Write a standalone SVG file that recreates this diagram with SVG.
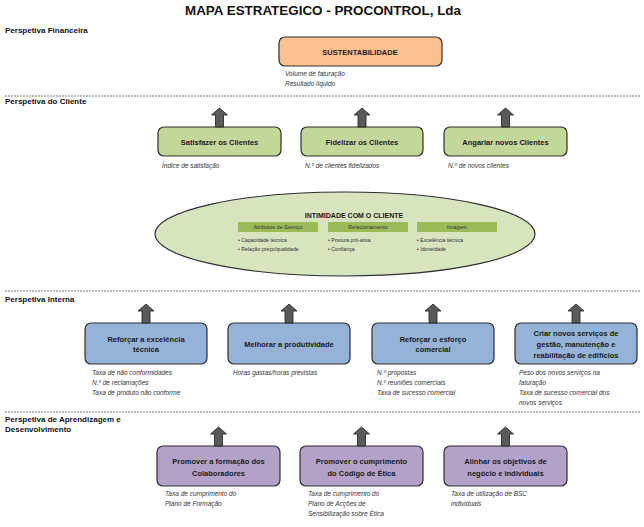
<svg xmlns="http://www.w3.org/2000/svg" xmlns:xlink="http://www.w3.org/1999/xlink" width="644" height="527" viewBox="0 0 644 527">
<defs>
<style>
.title{font-family:"Liberation Sans",Arial,sans-serif;font-weight:bold;font-size:13px;fill:#111}
.sec{font-family:"Liberation Sans",Arial,sans-serif;font-weight:bold;font-size:8px;fill:#111}
.box{stroke:#2e2e2e;stroke-width:1.2}
.bt{font-family:"Liberation Sans",Arial,sans-serif;font-weight:bold;font-size:7.5px;fill:#1a1a1a;text-anchor:middle}
.ind{font-family:"Liberation Sans",Arial,sans-serif;font-style:italic;font-size:6.5px;fill:#333}
.dash{stroke:#555;stroke-width:0.8;stroke-dasharray:2 1;fill:none}
.arr{fill:#5a5a5a;stroke:#1e1e1e;stroke-width:0.8}
.hdr{fill:#9bbb59}
.ht{font-family:"Liberation Sans",Arial,sans-serif;font-size:5.5px;fill:#333;text-anchor:middle}
.bl{font-family:"Liberation Sans",Arial,sans-serif;font-size:5.2px;fill:#333}
.orange{fill:#fac090}
.green{fill:#c4d79b}
.blue{fill:#95b3d7}
.purple{fill:#b3a2c7}
</style>
<path id="up" d="M0,0 L8,7 L4,7 L4,19 L-4,19 L-4,7 L-8,7 Z"/>
</defs>
<rect width="644" height="527" fill="#fff"/>
<text class="title" x="185" y="15" textLength="276" lengthAdjust="spacingAndGlyphs">MAPA ESTRATEGICO - PROCONTROL, Lda</text>

<g id="sections">
<text class="sec" x="5" y="33">Perspetiva Financeira</text>
<line class="dash" x1="5" y1="96" x2="640" y2="96"/>
<text class="sec" x="5" y="104">Perspetiva do Cliente</text>
<line class="dash" x1="5" y1="291" x2="640" y2="291"/>
<text class="sec" x="5" y="302">Perspetiva Interna</text>
<line class="dash" x1="5" y1="412" x2="640" y2="412"/>
<text class="sec" x="5" y="422">Perspetiva de Aprendizagem e</text>
<text class="sec" x="5" y="432">Desenvolvimento</text>
</g>

<g id="sustentabilidade">
<rect class="box orange" x="279" y="37" width="163" height="29" rx="6"/>
<text class="bt" x="360" y="54.5">SUSTENTABILIDADE</text>
<text class="ind" x="285" y="76">Volume de faturação</text>
<text class="ind" x="285" y="86">Resultado líquido</text>
</g>

<g id="satisfazer">
<rect class="box green" x="158" y="127" width="123" height="29" rx="6"/>
<text class="bt" x="219.5" y="144.5">Satisfazer os Clientes</text>
<text class="ind" x="162" y="168">Índice de satisfação</text>
</g>
<g id="fidelizar">
<rect class="box green" x="301" y="127" width="122" height="29" rx="6"/>
<text class="bt" x="362" y="144.5">Fidelizar os Clientes</text>
<text class="ind" x="305" y="168">N.º de clientes fidelizados</text>
</g>
<g id="angariar">
<rect class="box green" x="444" y="127" width="123" height="29" rx="6"/>
<text class="bt" x="505.5" y="144.5">Angariar novos Clientes</text>
<text class="ind" x="448" y="168">N.º de novos clientes</text>
</g>

<g id="intimidade">
<ellipse cx="345" cy="234" rx="190" ry="42" fill="#d7e4bd" stroke="#2e2e2e" stroke-width="1.2"/>
<text class="bt" x="354" y="217.5" style="font-size:7px">INTIMIDADE COM O CLIENTE</text>
<rect class="hdr" x="238" y="222" width="80" height="10"/>
<rect class="hdr" x="328" y="222" width="80" height="10"/>
<rect class="hdr" x="417" y="222" width="80" height="10"/>
<text class="ht" x="278" y="229">Atributos de Serviço</text>
<text class="ht" x="368" y="229">Relacionamento</text>
<text class="ht" x="457" y="229">Imagem</text>
<text class="bl" x="238" y="242">• Capacidade técnica</text>
<text class="bl" x="238" y="251">• Relação preço/qualidade</text>
<text class="bl" x="328" y="242">• Postura pró-ativa</text>
<text class="bl" x="328" y="251">• Confiança</text>
<text class="bl" x="417" y="242">• Excelência técnica</text>
<text class="bl" x="417" y="251">• Idoneidade</text>
</g>

<g id="excelencia">
<rect class="box blue" x="85" y="323" width="122" height="41" rx="6"/>
<text class="bt" x="146" y="341.5">Reforçar a excelência</text>
<text class="bt" x="146" y="351.5">técnica</text>
<text class="ind" x="92" y="375">Taxa de não conformidades</text>
<text class="ind" x="92" y="385">N.º de reclamações</text>
<text class="ind" x="92" y="395">Taxa de produto não conforme</text>
</g>
<g id="produtividade">
<rect class="box blue" x="228" y="323" width="122" height="41" rx="6"/>
<text class="bt" x="289" y="346.5">Melhorar a produtividade</text>
<text class="ind" x="233" y="375">Horas gastas/horas previstas</text>
</g>
<g id="esforco">
<rect class="box blue" x="372" y="323" width="122" height="41" rx="6"/>
<text class="bt" x="433" y="341.5">Reforçar o esforço</text>
<text class="bt" x="433" y="351.5">comercial</text>
<text class="ind" x="377" y="375">N.º propostas</text>
<text class="ind" x="377" y="385">N.º reuniões comerciais</text>
<text class="ind" x="377" y="395">Taxa de sucesso comercial</text>
</g>
<g id="novos-servicos">
<rect class="box blue" x="515" y="323" width="122" height="41" rx="6"/>
<text class="bt" x="576" y="336">Criar novos serviços de</text>
<text class="bt" x="576" y="347">gestão, manutenção e</text>
<text class="bt" x="576" y="358">reabilitação de edifícios</text>
<text class="ind" x="519" y="375">Peso dos novos serviços na</text>
<text class="ind" x="519" y="385">faturação</text>
<text class="ind" x="519" y="395">Taxa de sucesso comercial dos</text>
<text class="ind" x="519" y="405">novos serviços</text>
</g>

<g id="formacao">
<rect class="box purple" x="157" y="446" width="123" height="40" rx="6"/>
<text class="bt" x="218.5" y="463.5">Promover a formação dos</text>
<text class="bt" x="218.5" y="475.5">Colaboradores</text>
<text class="ind" x="165" y="496">Taxa de cumprimento do</text>
<text class="ind" x="165" y="506">Plano de Formação</text>
</g>
<g id="etica">
<rect class="box purple" x="300" y="446" width="123" height="40" rx="6"/>
<text class="bt" x="361.5" y="463.5">Promover o cumprimento</text>
<text class="bt" x="361.5" y="475.5">do Código de Ética</text>
<text class="ind" x="308" y="496">Taxa de cumprimento do</text>
<text class="ind" x="308" y="506">Plano de Acções de</text>
<text class="ind" x="308" y="516">Sensibilização sobre Ética</text>
</g>
<g id="alinhar">
<rect class="box purple" x="444" y="446" width="123" height="40" rx="6"/>
<text class="bt" x="505.5" y="463.5">Alinhar os objetivos de</text>
<text class="bt" x="505.5" y="475.5">negócio  e individuais</text>
<text class="ind" x="451" y="496">Taxa de utilização de BSC</text>
<text class="ind" x="451" y="506">individuais</text>
</g>

<g id="connectors">
<use xlink:href="#up" class="arr" x="219.5" y="108"/>
<use xlink:href="#up" class="arr" x="362" y="108"/>
<use xlink:href="#up" class="arr" x="505.5" y="108"/>
<use xlink:href="#up" class="arr" x="146" y="304"/>
<use xlink:href="#up" class="arr" x="289" y="304"/>
<use xlink:href="#up" class="arr" x="433" y="304"/>
<use xlink:href="#up" class="arr" x="576" y="304"/>
<use xlink:href="#up" class="arr" x="218.5" y="427"/>
<use xlink:href="#up" class="arr" x="361.5" y="427"/>
<use xlink:href="#up" class="arr" x="505.5" y="427"/>
</g>
</svg>
